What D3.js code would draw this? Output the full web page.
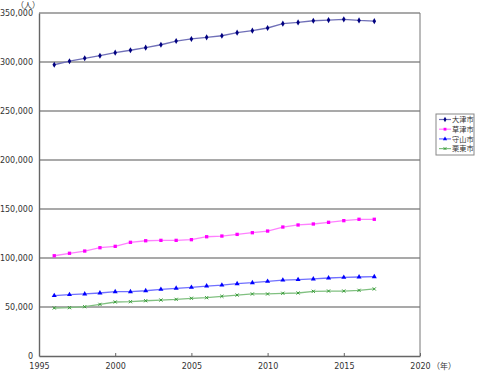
<!DOCTYPE html>
<html>
<head>
<meta charset="utf-8">
<script src="https://cdn.jsdelivr.net/npm/d3@7"></script>
<style>
  body { margin: 0; background: #fff; }
  text { font-family: "Noto Sans CJK JP", "DejaVu Sans", sans-serif; }
</style>
</head>
<body>
<script>
let years = d3.range(1996, 2018);

let otsu = [297200, 300800, 303800, 306400, 309500, 312000, 314600, 317600, 321400, 323500, 325200,
    326800, 329900, 332000, 334700, 339100, 340400, 342100, 342800, 343500, 342400, 341700];
let kusatsu = [102300, 104800, 107100, 110500, 111900, 116000, 117600, 118000, 118000, 118700, 121700,
    122400, 124100, 125800, 127500, 131600, 133700, 134700, 136400, 138100, 139500, 139500];
let moriyama = [61600, 62600, 63300, 64300, 65600, 65600, 66600, 68000, 69100, 70100, 71400,
    72400, 73800, 74800, 76200, 77500, 77900, 78600, 79600, 80300, 80600, 80900];
let ritto = [49000, 49300, 50300, 52700, 55100, 55400, 56400, 57100, 57800, 58900, 59500,
    60900, 62200, 63300, 63300, 64000, 64300, 66000, 66300, 66300, 67000, 68400];

let seriesNames = ["大津市", "草津市", "守山市", "栗東市"];
let seriesValues = [otsu, kusatsu, moriyama, ritto];
let seriesColors = ["#000080", "#ff00ff", "#0000ff", "#339933"];
let seriesLine = ["#7070b8", "#ff80ff", "#7070ff", "#80c080"];
let seriesMarker = ["diamond", "square", "triangle", "cross"];

let xTicks = [1995, 2000, 2005, 2010, 2015, 2020];
let yTicks = d3.range(0, 350001, 50000);

let width = 480, height = 374;
let margin = {top: 13, right: 60, bottom: 18, left: 39};

let x = d3.scaleLinear()
    .domain([1995, 2020])
    .range([margin.left, width - margin.right]);

let y = d3.scaleLinear()
    .domain([0, 350000])
    .range([height - margin.bottom, margin.top]);

let svg = d3.select("body").append("svg")
    .attr("width", width)
    .attr("height", height);

// grid lines
svg.append("g")
    .selectAll("line")
    .data(yTicks.slice(1))
    .join("line")
    .attr("x1", x(1995))
    .attr("x2", x(2020))
    .attr("y1", d => y(d))
    .attr("y2", d => y(d))
    .attr("stroke", "#8c8c8c")
    .attr("stroke-width", 1.6);

// right border
svg.append("line")
    .attr("x1", x(2020)).attr("x2", x(2020))
    .attr("y1", y(350000)).attr("y2", y(0))
    .attr("stroke", "#777").attr("stroke-width", 1);

let xAxis = d3.axisBottom(x)
    .tickValues(xTicks)
    .tickFormat(d3.format("d"))
    .tickSizeInner(-3)
    .tickSizeOuter(0)
    .tickPadding(7);

let yAxis = d3.axisLeft(y)
    .tickValues(yTicks)
    .tickFormat(d3.format(","))
    .tickSize(0)
    .tickPadding(6);

let gx = svg.append("g")
    .attr("transform", "translate(0," + y(0) + ")")
    .call(xAxis);

let gy = svg.append("g")
    .attr("transform", "translate(" + x(1995) + ",0)")
    .call(yAxis);

[gx, gy].forEach(g => {
    g.selectAll(".domain").attr("stroke", "#666").attr("stroke-width", 1.4);
    g.selectAll(".tick line").attr("stroke", "#666");
    g.selectAll("text")
        .attr("fill", "#333")
        .style("font-size", "8px")
        .style("font-family", "'DejaVu Sans', sans-serif");
});

svg.append("text")
    .attr("x", 28).attr("y", 8)
    .attr("text-anchor", "middle")
    .style("font-size", "8px")
    .attr("fill", "#333")
    .text("（人）");

svg.append("text")
    .attr("x", 444).attr("y", 369)
    .attr("text-anchor", "middle")
    .style("font-size", "8px")
    .attr("fill", "#333")
    .text("（年）");

let symbolTypes = {
    diamond: d3.symbolDiamond,
    square: d3.symbolSquare,
    triangle: d3.symbolTriangle,
    cross: d3.symbolTimes
};

function marker(g, type, color, size) {
    if (type === "cross") {
        g.append("path")
            .attr("d", d3.symbol(symbolTypes[type], size * 0.7)())
            .attr("fill", "none")
            .attr("stroke", color)
            .attr("stroke-width", 1);
    } else {
        g.append("path")
            .attr("d", d3.symbol(symbolTypes[type], size)())
            .attr("fill", color);
    }
}

let line = d3.line()
    .x((d, i) => x(years[i]))
    .y(d => y(d));

seriesValues.forEach((vals, k) => {
    let g = svg.append("g");
    g.append("path")
        .datum(vals)
        .attr("d", line)
        .attr("fill", "none")
        .attr("stroke", seriesLine[k])
        .attr("stroke-width", 1.3);
    vals.forEach((v, i) => {
        let m = g.append("g")
            .attr("transform", "translate(" + x(years[i]) + "," + y(v) + ")");
        marker(m, seriesMarker[k], seriesColors[k], 11);
    });
});

// legend
let legend = svg.append("g").attr("transform", "translate(436,114)");
legend.append("rect")
    .attr("width", 38).attr("height", 41)
    .attr("fill", "#fff")
    .attr("stroke", "#888")
    .attr("stroke-width", 1);

seriesNames.forEach((name, k) => {
    let row = legend.append("g").attr("transform", "translate(0," + (5.5 + k * 9.7) + ")");
    row.append("line")
        .attr("x1", 3).attr("x2", 15)
        .attr("stroke", seriesLine[k]).attr("stroke-width", 1.2);
    let m = row.append("g").attr("transform", "translate(9,0)");
    marker(m, seriesMarker[k], seriesColors[k], 8);
    row.append("text")
        .attr("x", 16).attr("y", 2.6)
        .style("font-size", "7.2px")
        .attr("fill", "#333")
        .text(name);
});
</script>
</body>
</html>
